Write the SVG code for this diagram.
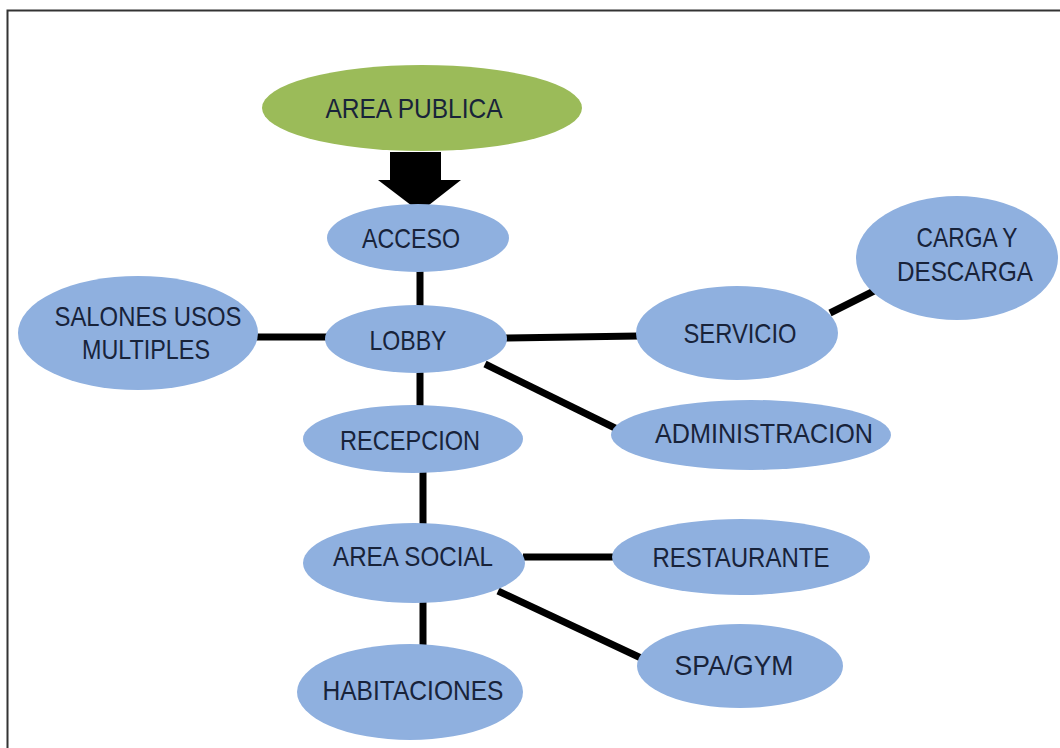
<svg xmlns="http://www.w3.org/2000/svg" width="1060" height="748" viewBox="0 0 1060 748">
<style>
  .n { fill: #8fb0df; }
  .g { fill: #9bbb59; }
  .t { font-family: "Liberation Sans", Arial, sans-serif; font-size: 27.5px; fill: #18233a; text-anchor: middle; }
  .c line { stroke: #000; stroke-width: 7; }
</style>
<rect width="1060" height="748" fill="#fff"/>
<path d="M7.5 748 V10.5 H1060" fill="none" stroke="#333" stroke-width="2"/>
<g class="c" id="connectors">
  <polygon points="390,152 441,152 441,180 461,180 420,212 378,180 390,180" fill="#000"/>
  <line x1="420" y1="270" x2="420" y2="308"/>
  <line x1="256" y1="337" x2="328" y2="337"/>
  <line x1="505" y1="338" x2="638" y2="336"/>
  <line x1="830" y1="313" x2="874" y2="291"/>
  <line x1="485" y1="364" x2="617" y2="429"/>
  <line x1="420" y1="370" x2="420" y2="407"/>
  <line x1="423" y1="470" x2="423" y2="532"/>
  <line x1="523" y1="557" x2="614" y2="557"/>
  <line x1="498" y1="591" x2="641" y2="658"/>
  <line x1="423" y1="598" x2="423" y2="648"/>
</g>
<g id="area-publica"><ellipse class="g" cx="422" cy="108" rx="160" ry="43"/><text class="t" x="414" y="118" textLength="177" lengthAdjust="spacingAndGlyphs">AREA PUBLICA</text></g>
<g id="acceso"><ellipse class="n" cx="418" cy="238" rx="91" ry="34"/><text class="t" x="411" y="248" textLength="98" lengthAdjust="spacingAndGlyphs">ACCESO</text></g>
<g id="salones"><ellipse class="n" cx="138" cy="333" rx="120" ry="57"/><text class="t" x="148" y="326" textLength="187" lengthAdjust="spacingAndGlyphs">SALONES USOS</text><text class="t" x="146" y="359" textLength="128" lengthAdjust="spacingAndGlyphs">MULTIPLES</text></g>
<g id="lobby"><ellipse class="n" cx="416" cy="339" rx="91" ry="34"/><text class="t" x="408" y="350" textLength="77" lengthAdjust="spacingAndGlyphs">LOBBY</text></g>
<g id="servicio"><ellipse class="n" cx="737" cy="333" rx="101" ry="47"/><text class="t" x="740" y="343" textLength="113" lengthAdjust="spacingAndGlyphs">SERVICIO</text></g>
<g id="carga"><ellipse class="n" cx="957" cy="258" rx="101" ry="62"/><text class="t" x="967" y="247" textLength="101" lengthAdjust="spacingAndGlyphs">CARGA Y</text><text class="t" x="965" y="281" textLength="136" lengthAdjust="spacingAndGlyphs">DESCARGA</text></g>
<g id="administracion"><ellipse class="n" cx="751" cy="435" rx="140" ry="35"/><text class="t" x="764" y="443" textLength="218" lengthAdjust="spacingAndGlyphs">ADMINISTRACION</text></g>
<g id="recepcion"><ellipse class="n" cx="413" cy="439" rx="110" ry="34"/><text class="t" x="410" y="450" textLength="140" lengthAdjust="spacingAndGlyphs">RECEPCION</text></g>
<g id="area-social"><ellipse class="n" cx="414" cy="563" rx="111" ry="40"/><text class="t" x="413" y="566" textLength="160" lengthAdjust="spacingAndGlyphs">AREA SOCIAL</text></g>
<g id="restaurante"><ellipse class="n" cx="741" cy="557" rx="129" ry="38"/><text class="t" x="741" y="567" textLength="177" lengthAdjust="spacingAndGlyphs">RESTAURANTE</text></g>
<g id="spa"><ellipse class="n" cx="740" cy="666" rx="103" ry="42"/><text class="t" x="734" y="675" textLength="119" lengthAdjust="spacingAndGlyphs">SPA/GYM</text></g>
<g id="habitaciones"><ellipse class="n" cx="410" cy="692" rx="113" ry="48"/><text class="t" x="413" y="700" textLength="181" lengthAdjust="spacingAndGlyphs">HABITACIONES</text></g>
</svg>
